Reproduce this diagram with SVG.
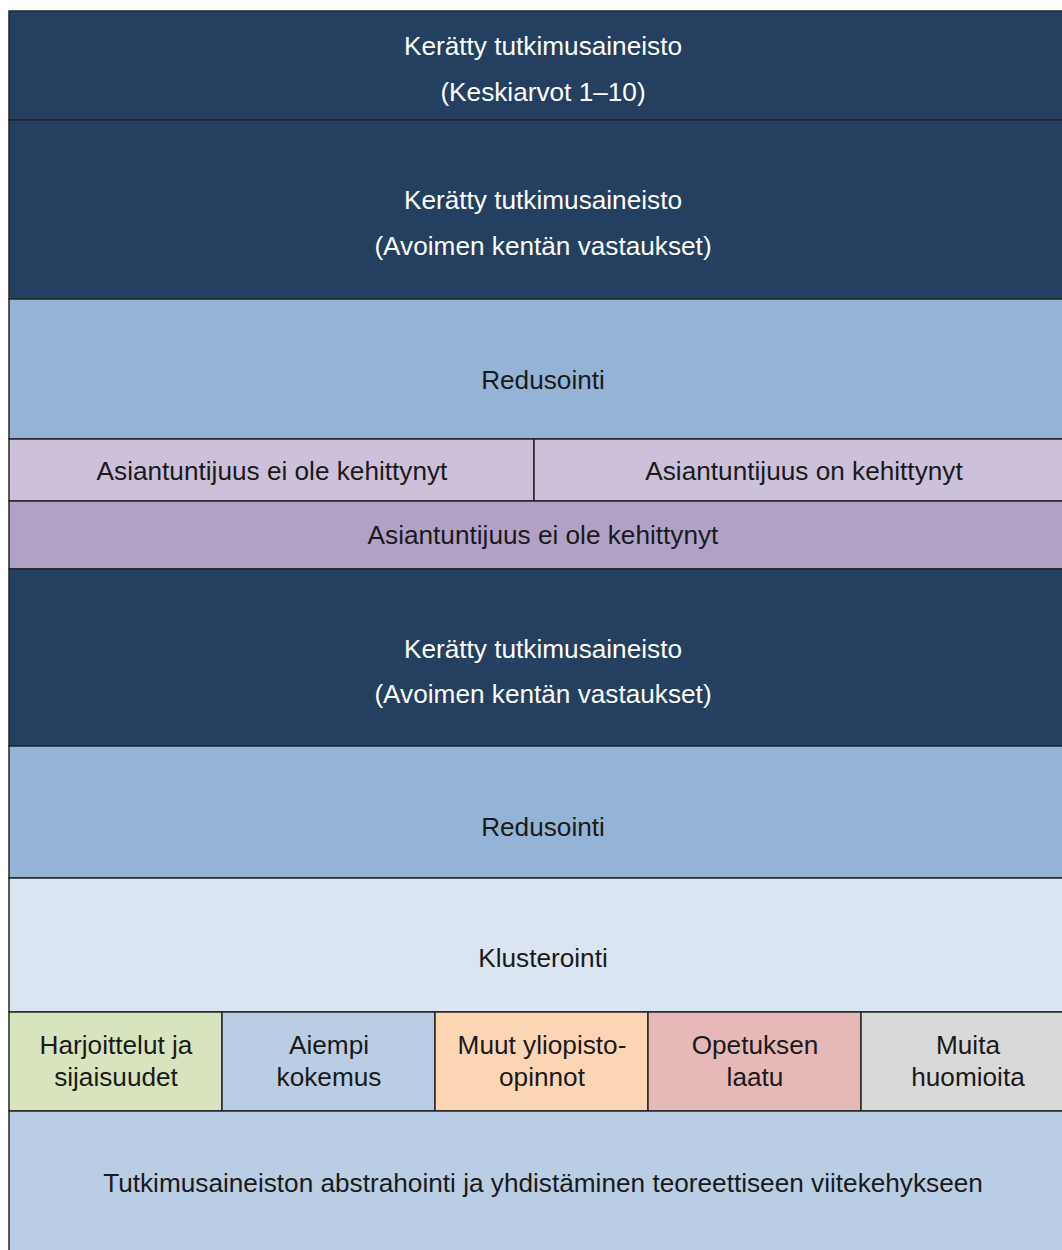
<svg xmlns="http://www.w3.org/2000/svg" width="1062" height="1250" viewBox="0 0 1062 1250">
<style>
rect{stroke:#262626;stroke-width:1.5}
text{font-family:"Liberation Sans",Arial,sans-serif;font-size:26.2px;text-anchor:middle;fill:#1a1a1a}
.w{fill:#ffffff}
.navy{fill:#243F60}
</style>
<rect width="1062" height="1250" fill="#ffffff" style="stroke:none"/>
<g id="n1"><rect class="navy" x="9" y="11" width="1065" height="109"/><text class="w" x="543" y="55">Kerätty tutkimusaineisto</text><text class="w" x="543" y="101">(Keskiarvot 1–10)</text></g>
<g id="n2"><rect class="navy" x="9" y="120" width="1065" height="179"/><text class="w" x="543" y="209">Kerätty tutkimusaineisto</text><text class="w" x="543" y="255">(Avoimen kentän vastaukset)</text></g>
<g id="n3"><rect fill="#95B3D7" x="9" y="299" width="1065" height="140"/><text x="543" y="389">Redusointi</text></g>
<g id="n4"><rect fill="#CCC0DA" x="9" y="439" width="525" height="62"/><text x="272" y="480">Asiantuntijuus ei ole kehittynyt</text></g>
<g id="n5"><rect fill="#CCC0DA" x="534" y="439" width="540" height="62"/><text x="804" y="480">Asiantuntijuus on kehittynyt</text></g>
<g id="n6"><rect fill="#B2A1C7" x="9" y="501" width="1065" height="68"/><text x="543" y="544">Asiantuntijuus ei ole kehittynyt</text></g>
<g id="n7"><rect class="navy" x="9" y="569" width="1065" height="177"/><text class="w" x="543" y="658">Kerätty tutkimusaineisto</text><text class="w" x="543" y="703">(Avoimen kentän vastaukset)</text></g>
<g id="n8"><rect fill="#95B3D7" x="9" y="746" width="1065" height="132"/><text x="543" y="836">Redusointi</text></g>
<g id="n9"><rect fill="#DBE5F1" x="9" y="878" width="1065" height="134"/><text x="543" y="967">Klusterointi</text></g>
<g id="n10"><rect fill="#D7E4BD" x="9" y="1012" width="213" height="99"/><text x="116" y="1054">Harjoittelut ja</text><text x="116" y="1086">sijaisuudet</text></g>
<g id="n11"><rect fill="#B9CDE5" x="222" y="1012" width="213" height="99"/><text x="329" y="1054">Aiempi</text><text x="329" y="1086">kokemus</text></g>
<g id="n12"><rect fill="#FCD5B5" x="435" y="1012" width="213" height="99"/><text x="542" y="1054">Muut yliopisto-</text><text x="542" y="1086">opinnot</text></g>
<g id="n13"><rect fill="#E6B9B8" x="648" y="1012" width="213" height="99"/><text x="755" y="1054">Opetuksen</text><text x="755" y="1086">laatu</text></g>
<g id="n14"><rect fill="#D9D9D9" x="861" y="1012" width="213" height="99"/><text x="968" y="1054">Muita</text><text x="968" y="1086">huomioita</text></g>
<g id="n15"><rect fill="#B9CDE5" x="9" y="1111" width="1065" height="150"/><text x="543" y="1192">Tutkimusaineiston abstrahointi ja yhdistäminen teoreettiseen viitekehykseen</text></g>
<g id="connectors"></g>
</svg>
